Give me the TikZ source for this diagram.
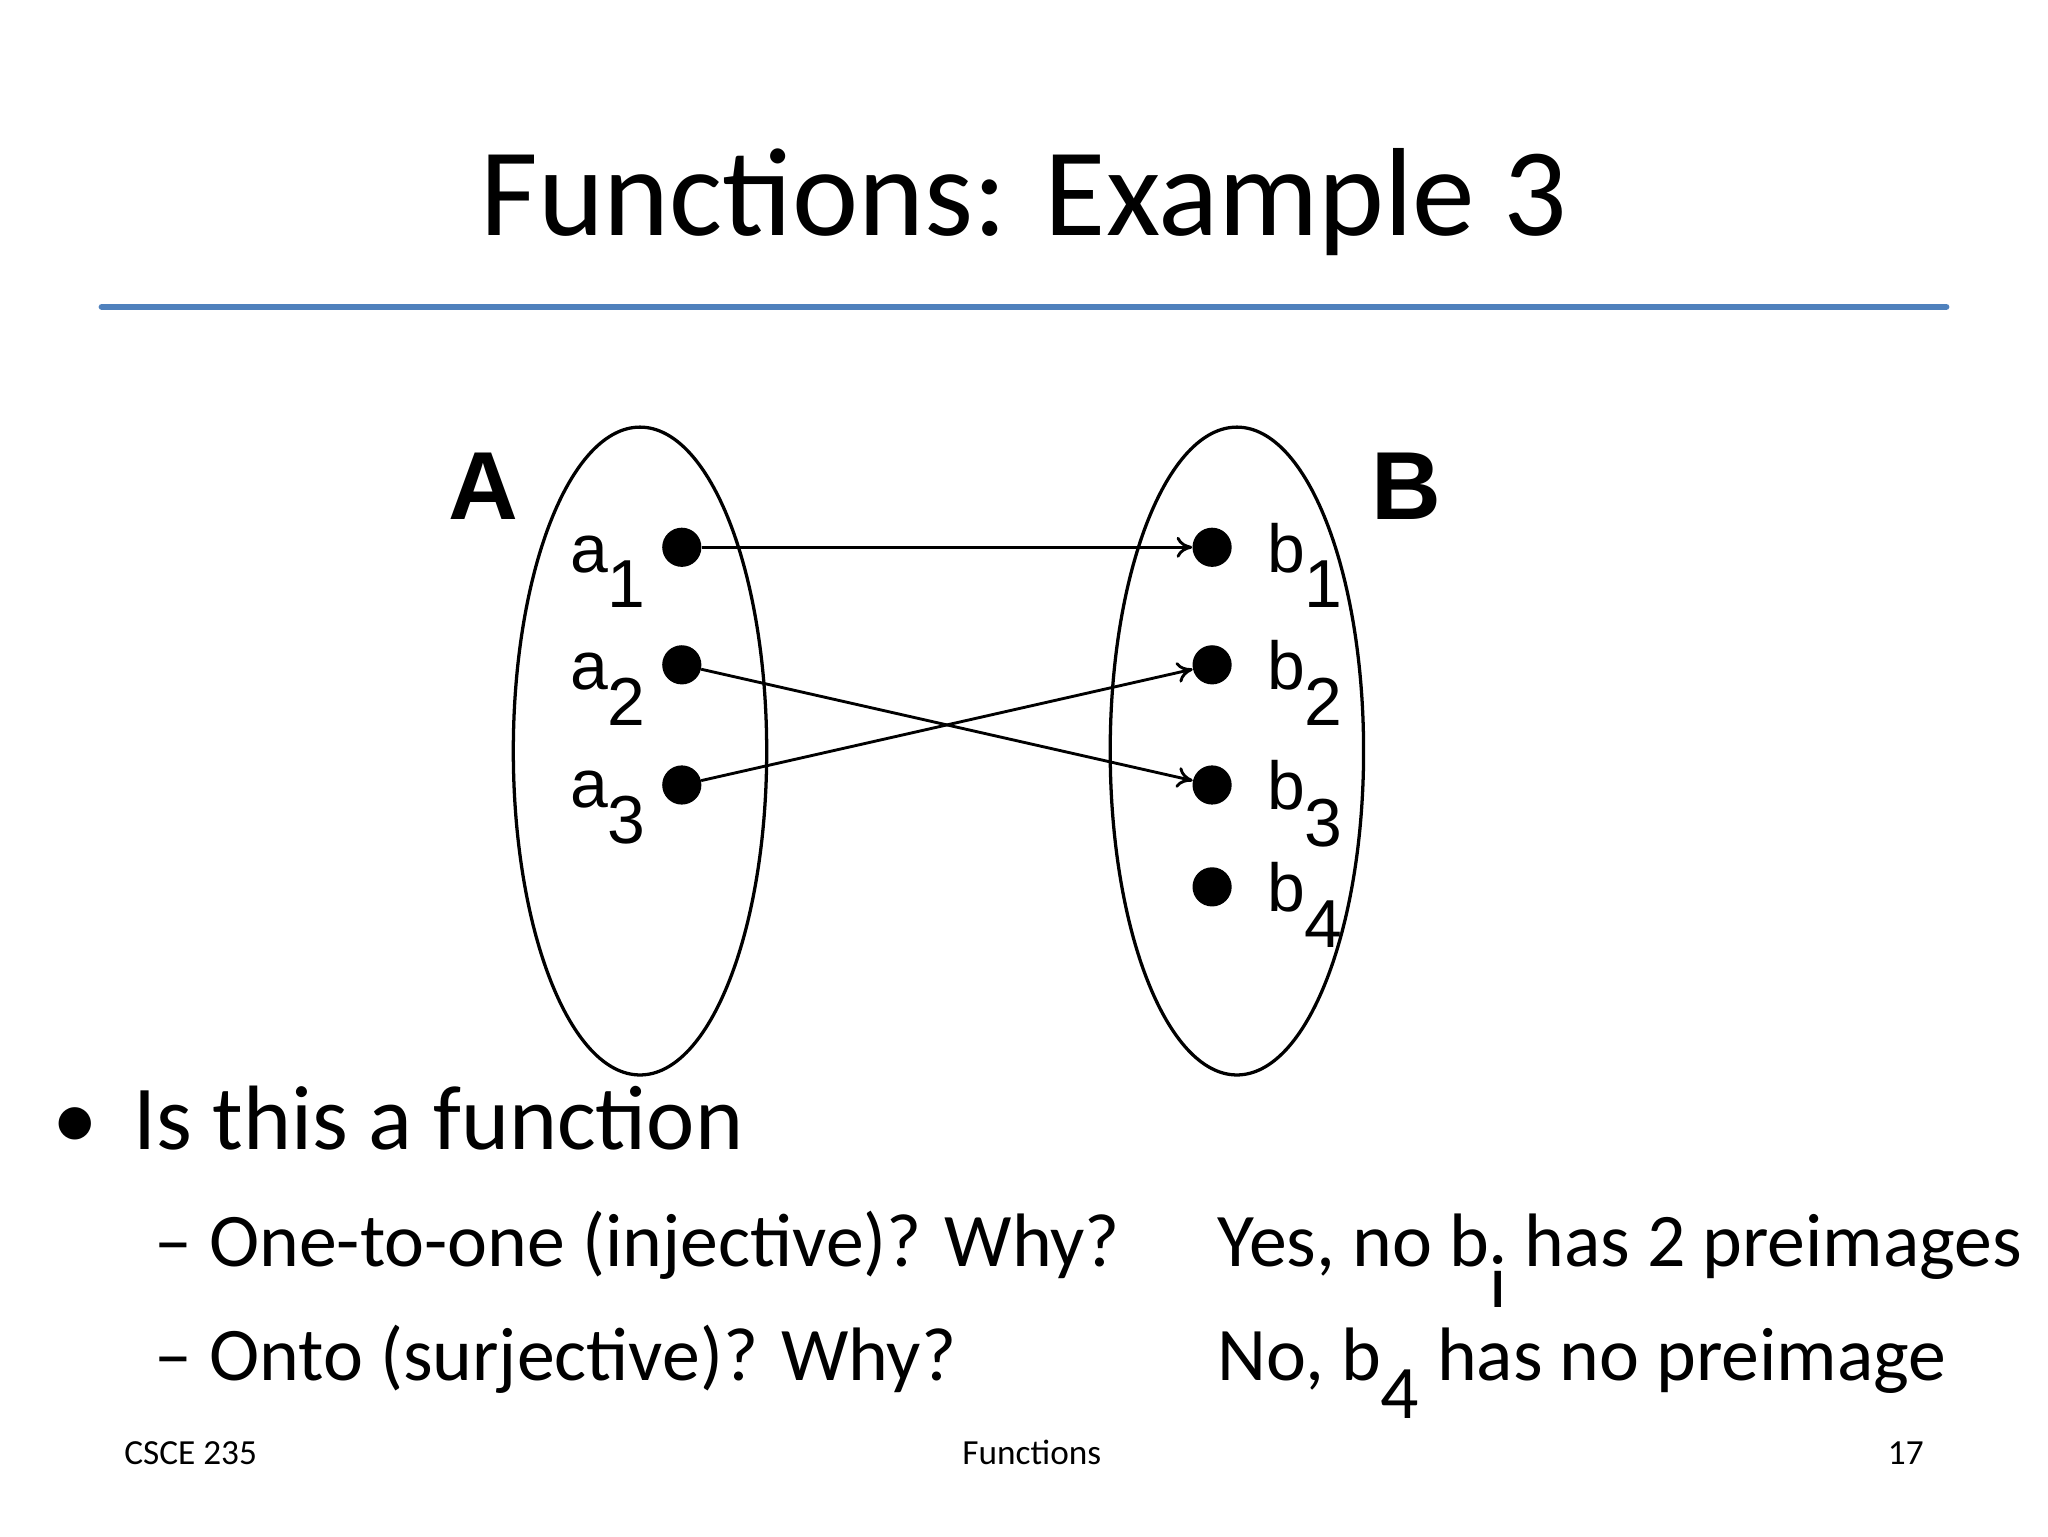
\documentclass[tikz,border=0pt]{standalone}
\usepackage{fontspec}
\setmainfont{Carlito}
\newfontfamily\arialf{Liberation Sans}
\usetikzlibrary{arrows.meta}
\definecolor{ruleblue}{HTML}{4F81BD}
\begin{document}
\begin{tikzpicture}[x=1pt,y=-1pt,
  dotn/.style={circle,fill=black,inner sep=0pt,minimum size=30pt},
  lab/.style={font=\arialf\fontsize{52}{60}\selectfont,inner sep=0pt},
  setlab/.style={font=\arialf\bfseries\fontsize{74}{80}\selectfont,inner sep=0pt},
  mapar/.style={line width=2.2pt,-{To[length=12pt,width=16pt]}},
  txt/.style={inner sep=0pt,anchor=base west}]
\useasboundingbox (0,0) rectangle (1568,1176);
\fill[white] (0,0) rectangle (1568,1176);
\node[inner sep=0pt,anchor=base] (title) at (784,180) {\fontsize{96}{100}\selectfont Functions: Example 3};
\draw[ruleblue,line width=5pt,line cap=round] (78,235) coordinate (r1) -- (1490,235) coordinate (r2);
\draw[line width=2.5pt] (490,575) ellipse [x radius=97,y radius=248];
\draw[line width=2.5pt] (947,575) ellipse [x radius=97,y radius=248];
\node[setlab] (A) at (370,372) {A};
\node[setlab] (B) at (1077,372) {B};
\node[dotn] (a1) at (522,419) {};
\node[dotn] (a2) at (522,509) {};
\node[dotn] (a3) at (522,601) {};
\node[dotn] (b1) at (928,419) {};
\node[dotn] (b2) at (928,509) {};
\node[dotn] (b3) at (928,601) {};
\node[dotn] (b4) at (928,679) {};
\foreach \i in {1,2,3}{\node[lab,anchor=base east] (la\i) at (495,{438+(\i-1)*90}) {a$_{\textrm{\arialf\i}}$};}
\node[lab,anchor=base west] (lb1) at (970,438) {b$_{\textrm{\arialf 1}}$};
\node[lab,anchor=base west] (lb2) at (970,528) {b$_{\textrm{\arialf 2}}$};
\node[lab,anchor=base west] (lb3) at (970,620) {b$_{\textrm{\arialf 3}}$};
\node[lab,anchor=base west] (lb4) at (970,698) {b$_{\textrm{\arialf 4}}$};
\draw[mapar] (a1) -- (b1);
\draw[mapar] (a2) -- (b3);
\draw[mapar] (a3) -- (b2);
\node[txt] (bul) at (40,880) {\fontsize{70}{80}\selectfont •};
\node[txt] (q) at (102,880) {\fontsize{70}{80}\selectfont Is this a function};
\node[txt] (q1) at (118,970) {\fontsize{58}{64}\selectfont – One-to-one (injective)? Why?};
\node[txt] (a1t) at (932,970) {\fontsize{58}{64}\selectfont Yes, no b$_{\textrm{i}}$ has 2 preimages};
\node[txt] (q2) at (118,1057) {\fontsize{58}{64}\selectfont – Onto (surjective)? Why?};
\node[txt] (a2t) at (932,1057) {\fontsize{58}{64}\selectfont No, b$_{\textrm{4}}$ has no preimage};
\node[txt] (f1) at (95,1121) {\fontsize{27}{30}\selectfont CSCE 235};
\node[inner sep=0pt,anchor=base] (f2) at (790,1121) {\fontsize{27}{30}\selectfont Functions};
\node[inner sep=0pt,anchor=base east] (f3) at (1473,1121) {\fontsize{27}{30}\selectfont 17};
\end{tikzpicture}
\end{document}
